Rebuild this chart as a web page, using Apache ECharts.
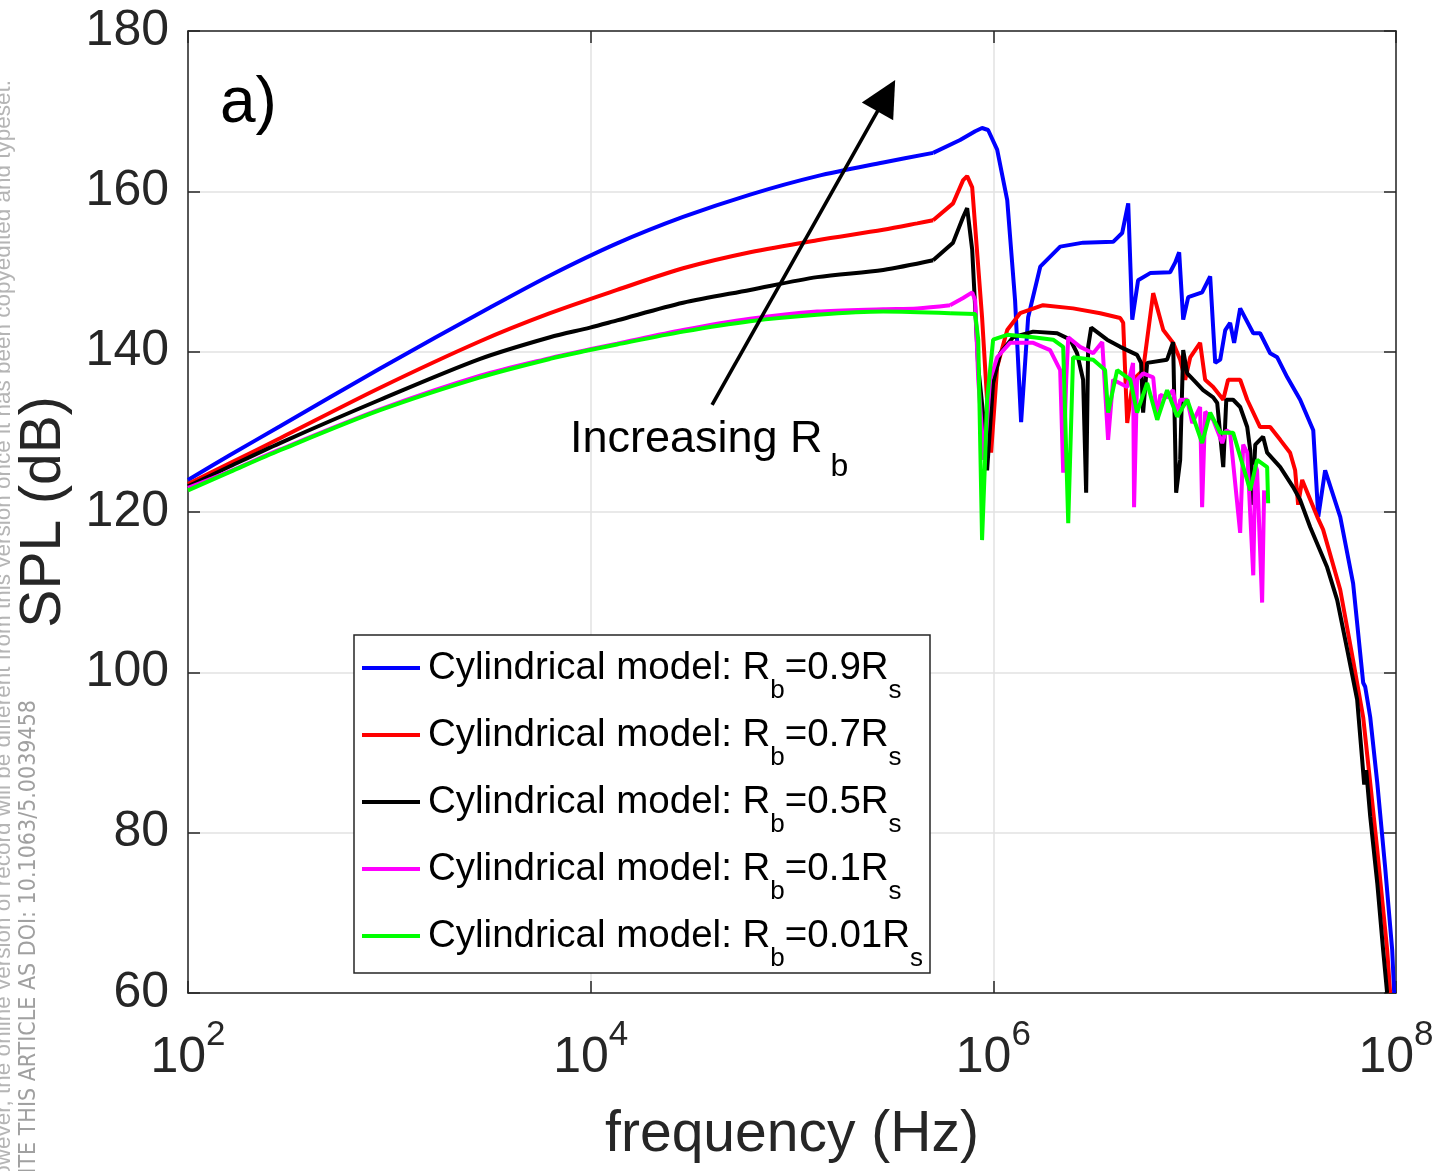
<!DOCTYPE html>
<html>
<head>
<meta charset="utf-8">
<script src="https://cdn.jsdelivr.net/npm/echarts@6/dist/echarts.min.js"></script>
<style>
html,body{margin:0;padding:0;background:#fff;overflow:hidden}
#chart{width:1454px;height:1171px}
</style>
</head>
<body>
<div id="chart"></div>
<script>
// Each point: [log10(frequency / Hz), SPL (dB)]
const seriesRb09 = [[2.000,124.0],[2.209,127.1],[2.457,130.7],[2.954,137.9],[3.500,145.5],[3.798,149.5],[4.131,153.5],[4.459,156.8],[4.792,159.6],[5.125,161.9],[5.453,163.6],[5.701,164.8],[5.835,166.4],[5.910,167.5],[5.944,167.9],[5.974,167.65],[6.019,165.2],[6.069,158.9],[6.108,146.4],[6.138,131.2],[6.173,144.3],[6.233,150.6],[6.332,153.1],[6.446,153.6],[6.595,153.7],[6.640,154.8],[6.670,158.5],[6.690,144.0],[6.719,148.9],[6.779,149.8],[6.878,149.9],[6.903,151.1],[6.923,152.4],[6.943,144.0],[6.968,146.8],[7.037,147.4],[7.077,149.4],[7.102,138.6],[7.127,139.0],[7.152,142.7],[7.176,143.6],[7.196,141.1],[7.226,145.4],[7.291,142.3],[7.325,142.3],[7.375,139.8],[7.410,139.3],[7.460,136.8],[7.524,134.0],[7.589,130.2],[7.614,119.4],[7.648,125.2],[7.723,119.4],[7.787,111.1],[7.837,98.7],[7.847,98.2],[7.872,94.4],[7.907,86.2],[7.946,75.7],[7.981,65.4],[7.991,60.0]];
const seriesRb07 = [[2.000,123.5],[2.209,126.1],[2.457,129.2],[2.954,135.5],[3.451,141.3],[3.798,144.8],[4.131,147.7],[4.459,150.4],[4.792,152.4],[5.125,153.9],[5.453,155.2],[5.622,156.0],[5.701,156.4],[5.800,158.5],[5.850,161.4],[5.870,161.9],[5.895,160.5],[5.944,144.3],[5.974,131.9],[5.989,127.4],[6.019,138.1],[6.069,142.7],[6.133,144.8],[6.247,145.8],[6.396,145.4],[6.531,144.8],[6.630,144.2],[6.645,143.6],[6.665,131.1],[6.694,136.5],[6.744,137.7],[6.794,147.3],[6.844,142.7],[6.893,141.1],[6.928,139.0],[6.953,136.5],[6.978,139.3],[7.027,141.1],[7.052,136.5],[7.092,135.6],[7.142,134.0],[7.166,136.5],[7.226,136.5],[7.261,134.0],[7.325,130.6],[7.375,130.6],[7.425,129.0],[7.474,127.4],[7.499,125.2],[7.514,120.9],[7.534,124.0],[7.609,119.4],[7.638,117.8],[7.723,110.3],[7.787,101.5],[7.837,94.4],[7.872,86.2],[7.907,77.8],[7.956,65.4],[7.971,60.0]];
const seriesRb05 = [[2.000,123.2],[2.209,125.7],[2.457,128.6],[2.954,134.0],[3.451,139.1],[3.798,141.8],[3.997,143.0],[4.131,143.9],[4.459,146.1],[4.792,147.7],[5.125,149.3],[5.453,150.2],[5.701,151.4],[5.800,153.6],[5.850,156.8],[5.870,157.9],[5.895,152.7],[5.925,138.1],[5.959,129.9],[5.969,125.2],[5.999,136.1],[6.034,139.8],[6.098,141.8],[6.198,142.5],[6.317,142.3],[6.382,141.5],[6.416,139.8],[6.446,136.5],[6.461,122.4],[6.471,140.6],[6.486,143.0],[6.565,141.5],[6.630,140.6],[6.714,139.6],[6.734,138.6],[6.744,132.4],[6.764,138.6],[6.863,139.0],[6.893,141.2],[6.908,122.4],[6.928,126.5],[6.943,140.2],[6.963,137.3],[6.993,136.5],[7.042,135.2],[7.092,134.3],[7.112,133.6],[7.142,125.6],[7.157,134.0],[7.191,134.0],[7.226,133.1],[7.261,130.6],[7.276,127.7],[7.286,120.9],[7.301,128.4],[7.340,129.4],[7.360,127.4],[7.425,125.6],[7.489,123.1],[7.524,121.5],[7.574,118.1],[7.658,113.1],[7.708,109.0],[7.758,102.8],[7.807,96.6],[7.832,89.1],[7.842,86.0],[7.852,87.8],[7.872,82.0],[7.907,73.7],[7.936,65.4],[7.956,60.0]];
const seriesRb01 = [[2.000,123.0],[2.209,125.1],[2.457,127.8],[2.954,132.8],[3.451,137.0],[3.798,139.2],[3.997,140.3],[4.131,141.0],[4.459,142.7],[4.792,144.1],[5.125,145.0],[5.453,145.3],[5.622,145.4],[5.785,145.8],[5.850,146.7],[5.895,147.4],[5.910,146.4],[5.925,136.5],[5.954,126.5],[5.969,131.5],[5.984,136.5],[6.019,139.3],[6.083,141.1],[6.198,141.1],[6.282,140.2],[6.332,137.7],[6.347,124.9],[6.362,136.5],[6.372,141.8],[6.431,140.6],[6.496,139.8],[6.541,141.2],[6.570,129.0],[6.595,136.5],[6.665,135.6],[6.694,138.6],[6.699,120.6],[6.714,136.5],[6.744,137.3],[6.794,136.8],[6.814,131.5],[6.829,134.6],[6.863,134.3],[6.893,135.2],[6.913,131.9],[6.928,134.0],[6.963,134.0],[6.988,131.1],[7.027,133.1],[7.037,120.6],[7.052,132.5],[7.092,131.5],[7.137,128.6],[7.157,130.2],[7.176,129.9],[7.226,117.4],[7.241,128.4],[7.261,127.4],[7.291,112.1],[7.301,125.9],[7.310,125.2],[7.335,108.7],[7.345,122.7]];
const seriesRb001 = [[2.000,122.7],[2.209,125.0],[2.457,127.7],[2.954,132.7],[3.451,136.8],[3.798,139.1],[3.997,140.2],[4.131,140.9],[4.459,142.5],[4.792,143.8],[5.125,144.6],[5.453,145.0],[5.785,144.8],[5.910,144.7],[5.925,141.5],[5.944,116.5],[5.959,126.5],[5.969,134.0],[5.999,141.5],[6.069,142.1],[6.198,141.8],[6.297,141.5],[6.347,140.6],[6.372,118.6],[6.396,139.3],[6.496,139.0],[6.555,137.7],[6.570,132.4],[6.615,137.7],[6.680,136.5],[6.714,132.4],[6.764,136.1],[6.814,131.5],[6.863,135.2],[6.913,131.9],[6.963,134.0],[7.037,128.6],[7.077,132.4],[7.127,129.9],[7.191,129.9],[7.276,122.7],[7.310,126.5],[7.360,125.6],[7.365,121.1]];

const ratioLabels = ['0.9', '0.7', '0.5', '0.1', '0.01'];
const seriesColors = ['#0000ff', '#ff0000', '#000000', '#ff00ff', '#00ff00'];
// the gently curving low-frequency part of each curve (log10 f up to this value) is drawn smoothed
const smoothUntil = [5.701, 5.701, 5.701, 5.785, 5.785];
const xTickValues = [1e2, 1e4, 1e6, 1e8];
// arrow annotation: [log10(f), dB]
const arrowTail = [4.603, 133.35];
const arrowHead = [5.4685, 171.93];

const FONT = '"Liberation Sans", Arial, Helvetica, sans-serif';
const AXIS_COLOR = '#262626';

const allData = [seriesRb09, seriesRb07, seriesRb05, seriesRb01, seriesRb001];
const toHz = pts => pts.map(p => [Math.pow(10, p[0]), p[1]]);

const series = [];
allData.forEach((pts, i) => {
  const base = {
    name: ratioLabels[i],
    type: 'line',
    showSymbol: false,
    symbol: 'none',
    clip: true,
    z: 2 + i * 0.1,
    lineStyle: { color: seriesColors[i], width: 4 },
    itemStyle: { color: seriesColors[i] },
    emphasis: { disabled: true }
  };
  series.push(Object.assign({}, base, {
    data: toHz(pts.filter(p => p[0] <= smoothUntil[i])),
    smooth: 0.3
  }));
  series.push(Object.assign({}, base, {
    data: toHz(pts.filter(p => p[0] >= smoothUntil[i])),
    smooth: false
  }));
});

series[series.length - 1].markLine = {
  silent: true,
  animation: false,
  symbol: ['none', 'triangle'],
  symbolSize: 36,
  label: { show: false },
  lineStyle: { color: '#000', width: 3.6, type: 'solid' },
  emphasis: { disabled: true },
  data: [[
    { coord: [Math.pow(10, arrowTail[0]), arrowTail[1]] },
    { coord: [Math.pow(10, arrowHead[0]), arrowHead[1]] }
  ]]
};

const chart = echarts.init(document.getElementById('chart'), null, { renderer: 'canvas' });

const xAxisCommon = {
  type: 'log',
  logBase: 10,
  min: 1e2,
  max: 1e8
};

chart.setOption({
  animation: false,
  backgroundColor: '#ffffff',
  grid: { left: 188, right: 58, top: 31, bottom: 178, containLabel: false, outerBoundsMode: 'none' },
  xAxis: [
    Object.assign({}, xAxisCommon, {
      position: 'bottom',
      name: 'frequency (Hz)',
      nameLocation: 'middle',
      nameGap: 114,
      nameTextStyle: { fontFamily: FONT, fontSize: 57, color: AXIS_COLOR },
      axisLine: { show: true, onZero: false, lineStyle: { color: AXIS_COLOR, width: 1.5 } },
      axisTick: { show: true, inside: true, length: 12, customValues: xTickValues, lineStyle: { color: AXIS_COLOR, width: 1.5 } },
      splitLine: { show: true, lineStyle: { color: '#e2e2e2', width: 1.5 } },
      minorTick: { show: false },
      axisLabel: {
        customValues: xTickValues,
        margin: 40,
        color: AXIS_COLOR,
        fontFamily: FONT,
        formatter: v => '{b|10}{s|' + Math.round(Math.log10(v)) + '}',
        rich: {
          b: { fontFamily: FONT, fontSize: 50, lineHeight: 50, color: AXIS_COLOR },
          s: { fontFamily: FONT, fontSize: 35, lineHeight: 50, color: AXIS_COLOR, padding: [0, 0, 46, 0] }
        }
      }
    }),
    Object.assign({}, xAxisCommon, {
      position: 'top',
      axisLine: { show: true, onZero: false, lineStyle: { color: AXIS_COLOR, width: 1.5 } },
      axisTick: { show: true, inside: true, length: 12, customValues: xTickValues, lineStyle: { color: AXIS_COLOR, width: 1.5 } },
      splitLine: { show: false },
      axisLabel: { show: false, customValues: xTickValues }
    })
  ],
  yAxis: [
    {
      type: 'value',
      position: 'left',
      min: 60, max: 180, interval: 20,
      name: 'SPL (dB)',
      nameLocation: 'middle',
      nameGap: 115,
      nameTextStyle: { fontFamily: FONT, fontSize: 57, color: AXIS_COLOR },
      axisLine: { show: true, onZero: false, lineStyle: { color: AXIS_COLOR, width: 1.5 } },
      axisTick: { show: true, inside: true, length: 12, lineStyle: { color: AXIS_COLOR, width: 1.5 } },
      splitLine: { show: true, lineStyle: { color: '#e2e2e2', width: 1.5 } },
      axisLabel: { margin: 19, color: AXIS_COLOR, fontFamily: FONT, fontSize: 50 }
    },
    {
      type: 'value',
      position: 'right',
      min: 60, max: 180, interval: 20,
      axisLine: { show: true, onZero: false, lineStyle: { color: AXIS_COLOR, width: 1.5 } },
      axisTick: { show: true, inside: true, length: 12, lineStyle: { color: AXIS_COLOR, width: 1.5 } },
      splitLine: { show: false },
      axisLabel: { show: false }
    }
  ],
  legend: {
    orient: 'vertical',
    left: 362,
    top: 632,
    padding: 0,
    itemWidth: 58,
    itemHeight: 4,
    itemGap: -5,
    z: 20,
    selectedMode: false,
    icon: 'path://M0,0 L58,0 L58,4 L0,4 Z',
    data: ratioLabels,
    formatter: name => 'Cylindrical model: R{s|b}=' + name + 'R{s|s}',
    textStyle: {
      fontFamily: FONT, fontSize: 38.5, color: '#000', lineHeight: 44,
      padding: [0, 0, 0, 3],
      rich: {
        s: { fontFamily: FONT, fontSize: 26, lineHeight: 44, color: '#000', padding: [46, 0, 0, 0] }
      }
    }
  },
  graphic: [
    {
      type: 'rect', z: 19, silent: true,
      shape: { x: 354, y: 635, width: 576, height: 338 },
      style: { fill: '#ffffff', stroke: AXIS_COLOR, lineWidth: 1.5 }
    },
    {
      type: 'text', x: 220, y: 104, z: 100,
      style: { text: 'a)', fontFamily: FONT, fontSize: 64, fill: '#000', align: 'left', verticalAlign: 'middle' }
    },
    {
      type: 'text', x: 570, y: 440, z: 100,
      style: {
        text: 'Increasing R{s|b}', fontFamily: FONT, fontSize: 45, lineHeight: 45, fill: '#000',
        align: 'left', verticalAlign: 'middle',
        rich: { s: { fontFamily: FONT, fontSize: 32, lineHeight: 45, fill: '#000', padding: [55, 0, 0, 8] } }
      }
    },
    {
      type: 'text', x: 4, y: 80, rotation: Math.PI / 2, z: 100,
      style: {
        text: 'This is the author\u2019s peer reviewed, accepted manuscript. However, the online version of record will be different from this version once it has been copyedited and typeset.',
        fontFamily: FONT, fontSize: 22.5, fill: '#b5b5b5', align: 'right', verticalAlign: 'middle'
      }
    },
    {
      type: 'text', x: 29, y: 700, rotation: Math.PI / 2, z: 100,
      style: {
        text: 'PLEASE CITE THIS ARTICLE AS DOI: 10.1063/5.0039458',
        fontFamily: '"Liberation Sans Narrow", "DejaVu Sans Condensed", "Liberation Sans", sans-serif',
        fontSize: 23, fill: '#a0a0a0', align: 'right', verticalAlign: 'middle'
      }
    }
  ],
  series: series
});
</script>
</body>
</html>
